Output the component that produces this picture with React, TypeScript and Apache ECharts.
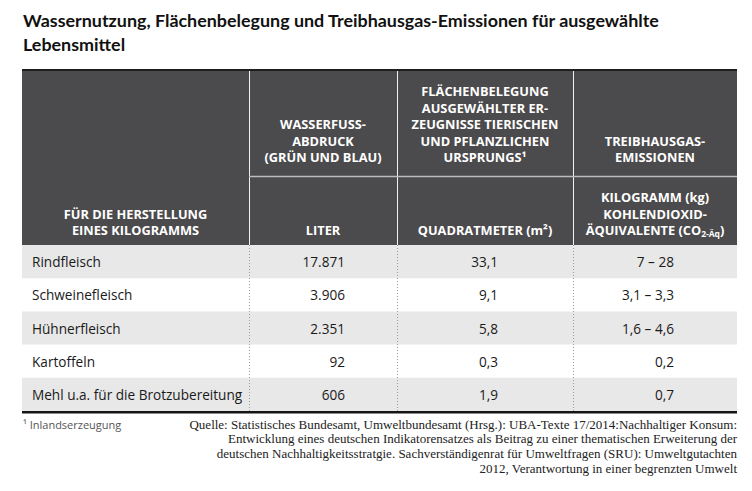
import React, { useEffect, useRef } from "react";
import * as echarts from "echarts";

// ---------- data ----------
const titleLines = [
  "Wassernutzung, Flächenbelegung und Treibhausgas-Emissionen für ausgewählte",
  "Lebensmittel",
];
const foods = [
  "Rindfleisch",
  "Schweinefleisch",
  "Hühnerfleisch",
  "Kartoffeln",
  "Mehl u.a. für die Brotzubereitung",
];
const waterLiters = [17871, 3906, 2351, 92, 606];
const areaM2 = [33.1, 9.1, 5.8, 0.3, 1.9];
const ghgMin = [7, 3.1, 1.6, 0.2, 0.7];
const ghgMax: (number | null)[] = [28, 3.3, 4.6, null, null];

const headTop = [
  [],
  ["WASSERFUSS-", "ABDRUCK", "(GRÜN UND BLAU)"],
  ["FLÄCHENBELEGUNG", "AUSGEWÄHLTER ER-", "ZEUGNISSE TIERISCHEN", "UND PFLANZLICHEN", "URSPRUNGS¹"],
  ["TREIBHAUSGAS-", "EMISSIONEN"],
];
const headBottom = [
  ["FÜR DIE HERSTELLUNG", "EINES KILOGRAMMS"],
  ["LITER"],
  ["QUADRATMETER (m²)"],
  ["KILOGRAMM (kg)", "KOHLENDIOXID-", "ÄQUIVALENTE (CO{s|2-Äq})"],
];
const footnote = "¹ Inlandserzeugung";
const sourceLines = [
  "Quelle: Statistisches Bundesamt, Umweltbundesamt (Hrsg.): UBA-Texte 17/2014:Nachhaltiger Konsum:",
  "Entwicklung eines deutschen Indikatorensatzes als Beitrag zu einer thematischen Erweiterung der",
  "deutschen Nachhaltigkeitsstratgie. Sachverständigenrat für Umweltfragen (SRU): Umweltgutachten",
  "2012, Verantwortung in einer begrenzten Umwelt",
];

// ---------- helpers ----------
const fmtInt = (v: number) => String(v).replace(/\B(?=(\d{3})+(?!\d))/g, ".");
const fmtDec = (v: number) => String(v).replace(".", ",");
const fmtRange = (a: number, b: number | null) =>
  b == null ? fmtDec(a) : `${fmtDec(a)} – ${fmtDec(b)}`;

// ---------- layout ----------
const X0 = 22;
const X1 = 737;
const colEdges = [X0, 249, 397, 573, X1];
const headY0 = 69;
const headMid = 176;
const headY1 = 245;
const rowH = 33.2;
const valueRight = [345, 498, 674];
const HEAD_BG = "#4b4a4c";
const ROW_BG = "#e8e8e8";
const TITLE_FONT = "Lato, 'Noto Sans', sans-serif";
const SANS = "'Open Sans', 'Noto Sans', sans-serif";

function buildGraphics() {
  const g: any[] = [];
  // title
  titleLines.forEach((t, i) =>
    g.push({
      type: "text",
      x: 23,
      y: 20 + i * 24,
      style: { text: t, font: `bold 17.9px ${TITLE_FONT}`, fill: "#111", textVerticalAlign: "middle" },
    })
  );
  // header background
  g.push({ type: "rect", shape: { x: X0, y: headY0, width: X1 - X0, height: headY1 - headY0 }, style: { fill: HEAD_BG } });
  g.push({ type: "rect", shape: { x: X0, y: headY0, width: X1 - X0, height: 2 }, style: { fill: "#1e1e1e" } });
  // header lines
  for (let c = 1; c < 4; c++) {
    g.push({ type: "line", shape: { x1: colEdges[c] + 0.5, y1: headY0 + 2, x2: colEdges[c] + 0.5, y2: headY1 }, style: { stroke: "#f0f0f0", lineWidth: 1 } });
  }
  g.push({ type: "line", shape: { x1: colEdges[1], y1: headMid + 0.5, x2: X1, y2: headMid + 0.5 }, style: { stroke: "#bdbdbd", lineWidth: 1.5 } });
  // header texts
  const lh = 16.4;
  const headFont = `bold 12.8px ${SANS}`;
  headTop.forEach((lines, c) => {
    const cx = (colEdges[c] + colEdges[c + 1]) / 2;
    const bottom = headMid - 19;
    lines.forEach((t, i) => {
      g.push({
        type: "text",
        x: cx,
        y: bottom - (lines.length - 1 - i) * lh,
        style: { text: t, font: headFont, fill: "#fff", textAlign: "center", textVerticalAlign: "middle" },
      });
    });
  });
  headBottom.forEach((lines, c) => {
    const cx = (colEdges[c] + colEdges[c + 1]) / 2;
    const bottom = headY1 - 15;
    lines.forEach((t, i) => {
      g.push({
        type: "text",
        x: cx,
        y: bottom - (lines.length - 1 - i) * lh,
        style: {
          text: t,
          font: headFont,
          fill: "#fff",
          textAlign: "center",
          textVerticalAlign: "middle",
          rich: { s: { fontSize: 8.5, fontWeight: "bold", fontFamily: SANS, fill: "#fff", padding: [7, 0, 0, 0] } },
        },
      });
    });
  });
  // rows
  foods.forEach((f, r) => {
    const y = headY1 + r * rowH;
    if (r % 2 === 0) {
      g.push({ type: "rect", shape: { x: X0, y, width: X1 - X0, height: rowH }, style: { fill: ROW_BG } });
    }
    const cy = y + rowH / 2;
    const bodyFont = `13.6px ${SANS}`;
    g.push({ type: "text", x: 32, y: cy, style: { text: f, font: bodyFont, fill: "#1a1a1a", textVerticalAlign: "middle" } });
    const vals = [fmtInt(waterLiters[r]), fmtDec(areaM2[r]), fmtRange(ghgMin[r], ghgMax[r])];
    vals.forEach((v, k) =>
      g.push({ type: "text", x: valueRight[k], y: cy, style: { text: v, font: bodyFont, fill: "#1a1a1a", textAlign: "right", textVerticalAlign: "middle" } })
    );
  });
  const bodyEnd = headY1 + foods.length * rowH;
  for (let c = 1; c < 4; c++) {
    g.push({ type: "line", shape: { x1: colEdges[c] + 0.5, y1: headY1, x2: colEdges[c] + 0.5, y2: bodyEnd }, style: { stroke: "#9a9a9a", lineWidth: 1, lineDash: [1, 2] } });
  }
  g.push({ type: "rect", shape: { x: X0, y: bodyEnd, width: X1 - X0, height: 2.5 }, style: { fill: "#151515" } });
  // footnote & source
  g.push({ type: "text", x: 23, y: 424, style: { text: footnote, font: `11px ${SANS}`, fill: "#555", textVerticalAlign: "middle" } });
  sourceLines.forEach((t, i) =>
    g.push({
      type: "text",
      x: 737,
      y: 424 + i * 14.7,
      style: { text: t, font: `13px 'Liberation Serif', serif`, fill: "#222", textAlign: "right", textVerticalAlign: "middle" },
    })
  );
  return g;
}

export default function App() {
  const ref = useRef<HTMLDivElement>(null);
  useEffect(() => {
    if (!ref.current) return;
    const chart = echarts.init(ref.current, undefined, { renderer: "svg" });
    chart.setOption({
      animation: false,
      backgroundColor: "#fff",
      graphic: { elements: buildGraphics() },
    });
    return () => chart.dispose();
  }, []);
  return (
    <div
      ref={ref}
      style={{ position: "fixed", left: 0, top: 0, width: 752, height: 491, background: "#fff" }}
    />
  );
}
